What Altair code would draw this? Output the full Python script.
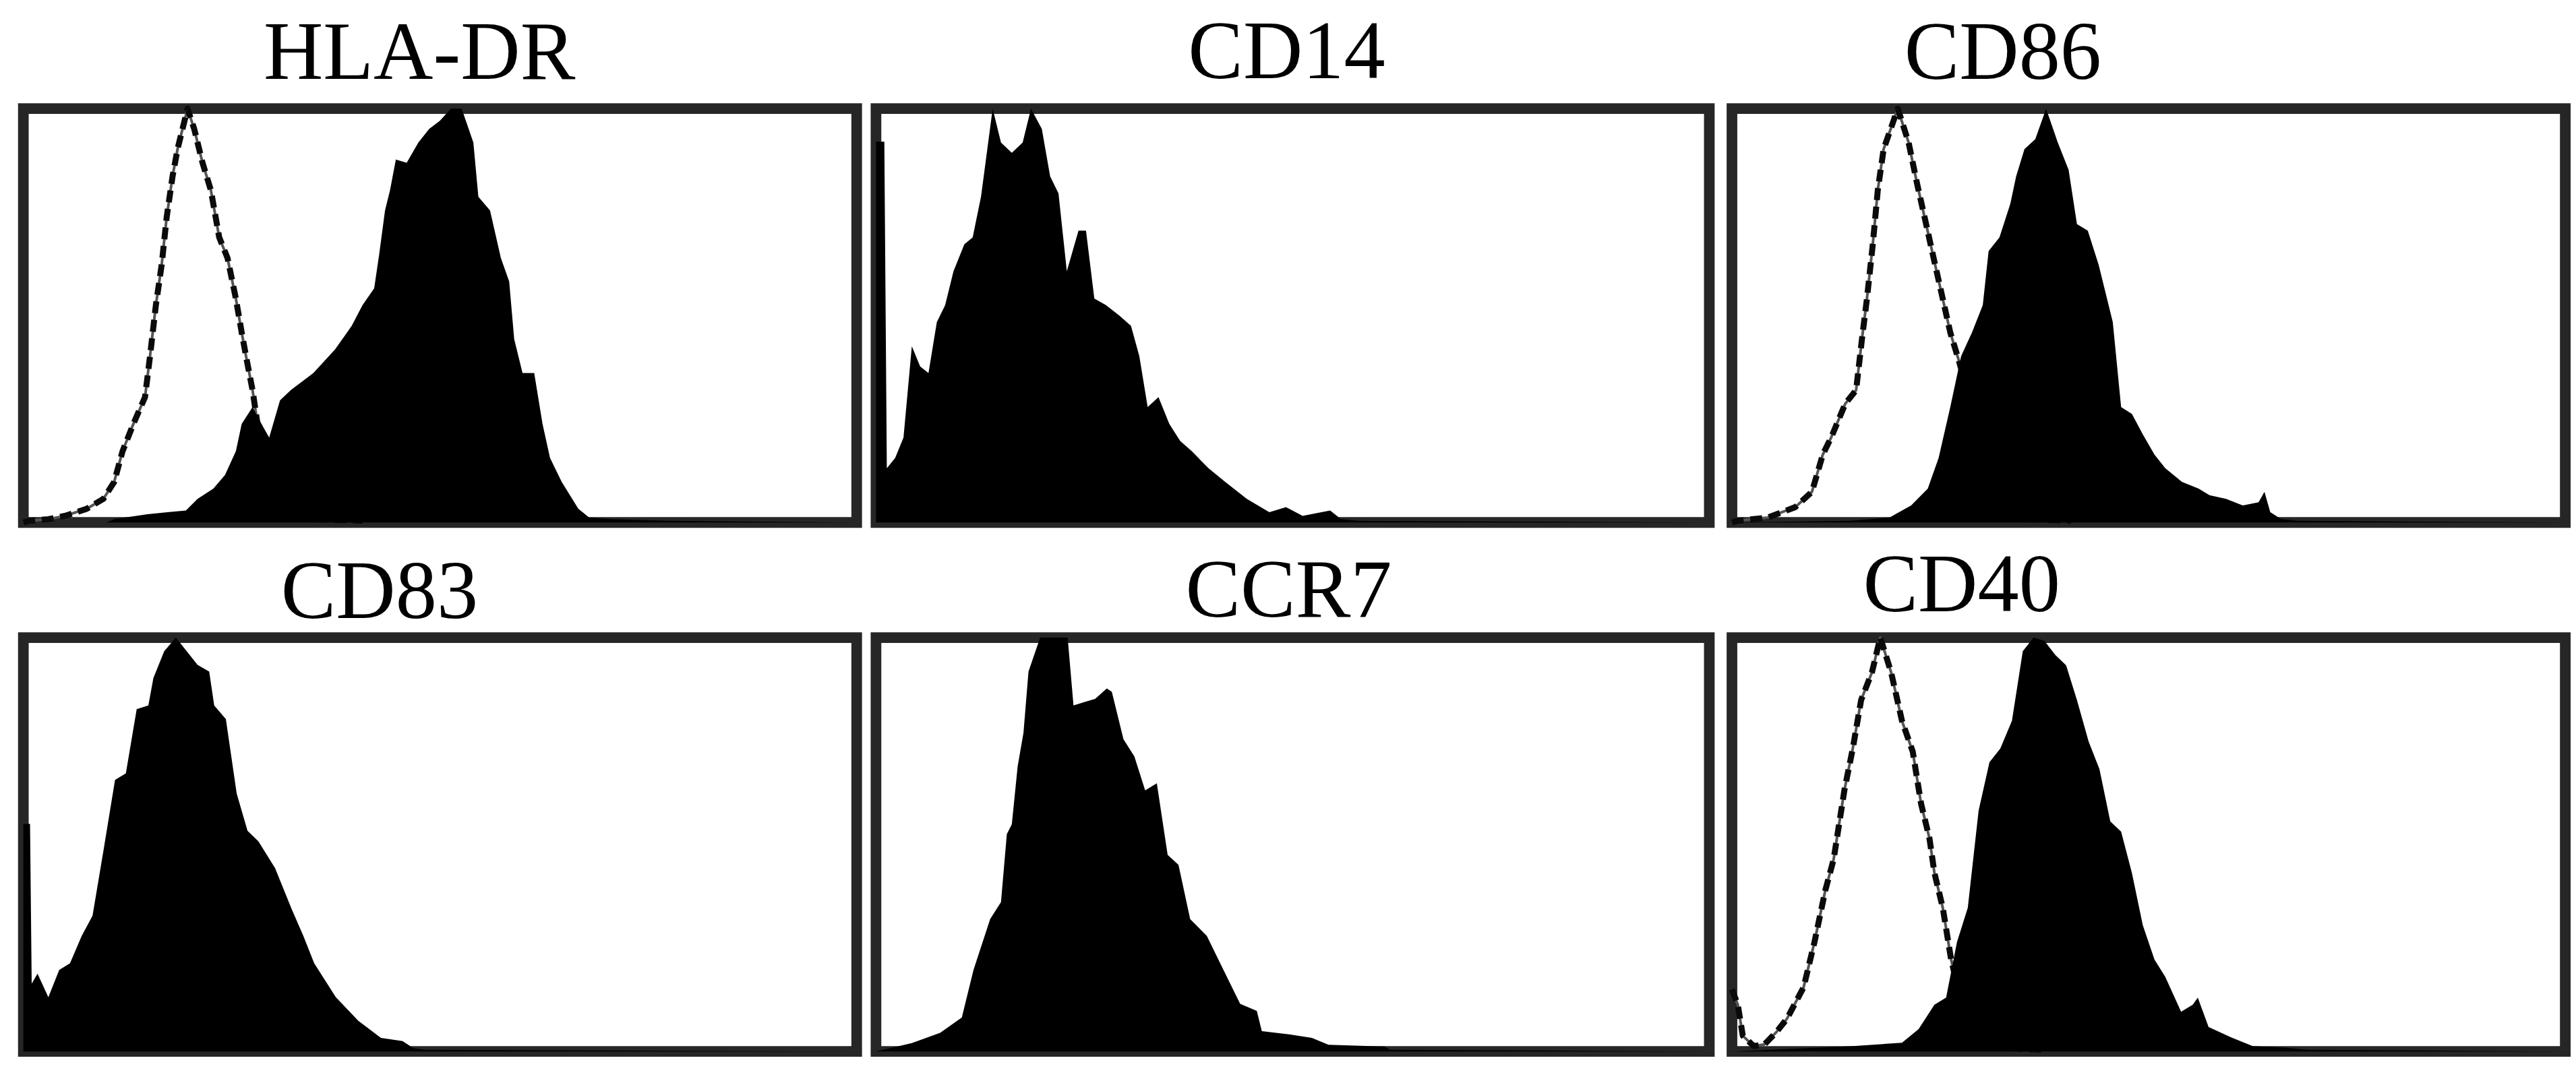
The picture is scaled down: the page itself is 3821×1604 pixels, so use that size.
import altair as alt
import pandas as pd

# ---- data: fluorescence channel (0-1000) vs relative count (% of max) ----
panels = ["HLA-DR", "CD14", "CD86", "CD83", "CCR7", "CD40"]

hla_fill_x = [0, 100, 109, 149, 195, 209, 228, 242, 255, 262, 275, 288, 295, 308, 321, 348, 374, 394, 407, 421, 427, 434, 440, 447, 460, 474, 487, 500, 513, 526, 540, 546, 560, 573, 583, 589, 599, 613, 623, 632, 646, 666, 679, 705, 772, 1000]
hla_fill_y = [0, 0, 0.8, 2.0, 2.9, 5.7, 8.2, 11.5, 17.2, 23.8, 27.9, 23.0, 20.5, 29.5, 32.0, 36.1, 41.8, 47.5, 52.5, 56.6, 64.8, 75.4, 80.3, 87.7, 86.9, 91.8, 95.1, 97.1, 100, 100, 91.8, 78.7, 75.4, 63.9, 58.2, 44.3, 36.1, 36.1, 23.8, 15.6, 9.8, 3.3, 1.2, 0.8, 0.4, 0]
hla_iso_x = [0, 7, 30, 50, 76, 96, 109, 119, 132, 146, 152, 159, 166, 172, 179, 185, 197, 205, 215, 225, 235, 245, 255, 262, 268, 275, 281, 291, 305, 321, 348, 407]
hla_iso_y = [0, 0.4, 0.8, 1.6, 3.3, 5.7, 9.8, 17.2, 23.8, 30.3, 40.2, 52.5, 62.3, 73.8, 83.6, 90.2, 100, 95.1, 86.9, 80.3, 68.9, 63.9, 54.1, 45.9, 39.3, 32.0, 23.8, 15.6, 7.4, 2.5, 0.8, 0.4]

cd14_fill_x = [0, 10, 13, 23, 33, 43, 53, 63, 73, 83, 93, 106, 116, 126, 133, 140, 150, 163, 176, 186, 199, 209, 219, 229, 243, 252, 262, 276, 292, 306, 316, 326, 339, 352, 365, 379, 399, 419, 445, 472, 492, 512, 545, 558, 578, 1000]
cd14_fill_y = [92, 92, 13.1, 15.6, 20.5, 42.6, 37.7, 36.1, 48.4, 52.5, 60.7, 67.2, 68.9, 78.7, 89.3, 100, 91.8, 89.3, 91.8, 100, 95.1, 83.6, 79.5, 60.7, 70.5, 70.5, 54.1, 52.5, 50.0, 47.5, 40.2, 27.9, 30.3, 23.8, 19.7, 17.2, 13.1, 9.8, 5.7, 2.5, 3.7, 1.6, 2.9, 0.8, 0.4, 0]

cd86_fill_x = [0, 142, 189, 215, 235, 248, 262, 275, 288, 301, 308, 321, 334, 341, 351, 364, 377, 391, 404, 414, 427, 440, 447, 457, 467, 480, 493, 507, 520, 540, 560, 573, 593, 613, 632, 639, 646, 659, 679, 1000]
cd86_fill_y = [0, 0.4, 1.2, 4.1, 8.2, 15.6, 27.9, 40.2, 45.9, 52.5, 65.6, 68.9, 77.0, 83.6, 90.2, 92.6, 100, 91.8, 85.2, 72.1, 70.5, 62.3, 56.6, 48.4, 27.9, 26.2, 21.3, 16.4, 13.1, 9.8, 8.2, 6.6, 5.7, 4.1, 4.9, 7.4, 2.5, 0.8, 0.4, 0]
cd86_iso_x = [0, 7, 43, 76, 96, 109, 119, 136, 149, 156, 162, 169, 175, 182, 199, 212, 222, 232, 242, 252, 262, 272, 281, 288, 298, 308, 328, 354, 407]
cd86_iso_y = [0, 0.4, 1.2, 3.7, 7.4, 16.4, 20.5, 28.7, 32.0, 44.3, 54.1, 67.2, 80.3, 90.2, 100, 91.8, 82.0, 73.0, 63.9, 54.9, 45.9, 39.3, 32.8, 23.8, 15.6, 7.4, 2.5, 0.8, 0.4]

cd83_fill_x = [0, 8, 10, 17, 30, 43, 56, 70, 83, 96, 110, 123, 136, 150, 156, 169, 183, 196, 209, 223, 229, 243, 256, 269, 282, 302, 322, 336, 349, 362, 375, 402, 429, 455, 468, 482, 1000]
cd83_fill_y = [55, 55, 16.4, 18.8, 13.1, 19.7, 21.3, 27.9, 32.8, 48.4, 65.6, 67.2, 82.7, 83.6, 90.2, 96.7, 100, 96.7, 93.4, 91.8, 83.6, 80.3, 62.3, 53.3, 50.8, 44.3, 34.4, 27.9, 21.3, 17.2, 13.1, 7.4, 3.3, 2.5, 0.8, 0.4, 0]

ccr7_fill_x = [0, 17, 43, 77, 103, 117, 137, 150, 157, 163, 170, 177, 183, 197, 230, 237, 250, 263, 277, 283, 297, 310, 323, 337, 350, 363, 377, 397, 417, 437, 457, 463, 497, 523, 543, 610, 617, 1000]
ccr7_fill_y = [0, 0.8, 2.0, 4.5, 8.2, 19.7, 32.0, 36.1, 52.5, 54.9, 68.9, 77.0, 91.8, 100, 100, 83.6, 84.4, 85.2, 87.7, 86.9, 75.4, 71.3, 63.1, 64.8, 47.5, 45.1, 32.0, 27.9, 19.7, 11.5, 9.8, 4.9, 4.1, 3.3, 1.6, 1.2, 0.4, 0]

cd40_fill_x = [0, 145, 204, 224, 243, 257, 270, 283, 296, 309, 322, 336, 349, 362, 375, 388, 401, 414, 428, 441, 454, 467, 480, 493, 507, 520, 539, 553, 559, 572, 599, 625, 664, 691, 1000]
cd40_fill_y = [0, 1.3, 2.1, 5.4, 11.3, 13.0, 26.4, 34.7, 58.2, 69.9, 73.2, 79.9, 96.7, 100, 99.2, 95.8, 93.3, 84.9, 74.9, 68.2, 55.6, 53.1, 43.1, 30.5, 22.2, 18.0, 9.6, 11.3, 13.0, 5.9, 3.4, 1.3, 0.9, 0.4, 0]
cd40_iso_x = [0, 7, 13, 26, 39, 53, 66, 86, 99, 112, 122, 135, 145, 155, 168, 178, 191, 204, 217, 227, 237, 243, 253, 263, 273, 286, 303, 329, 375]
cd40_iso_y = [15, 11.3, 3.8, 1.3, 1.7, 4.6, 7.9, 15.5, 26.4, 38.9, 46.4, 63.2, 73.2, 84.9, 91.6, 100, 91.6, 79.9, 72.4, 59.8, 51.5, 43.1, 34.7, 22.2, 13.8, 6.3, 2.1, 0.8, 0.4]

series = [
    ("HLA-DR", "stained", hla_fill_x, hla_fill_y),
    ("HLA-DR", "isotype", hla_iso_x, hla_iso_y),
    ("CD14", "stained", cd14_fill_x, cd14_fill_y),
    ("CD86", "stained", cd86_fill_x, cd86_fill_y),
    ("CD86", "isotype", cd86_iso_x, cd86_iso_y),
    ("CD83", "stained", cd83_fill_x, cd83_fill_y),
    ("CCR7", "stained", ccr7_fill_x, ccr7_fill_y),
    ("CD40", "stained", cd40_fill_x, cd40_fill_y),
    ("CD40", "isotype", cd40_iso_x, cd40_iso_y),
]

rows = []
for p, s, xs, ys in series:
    for xv, yv in zip(xs, ys):
        rows.append({"panel": p, "series": s, "x": xv, "y": yv})
df = pd.DataFrame(rows)

W, H = 1252, 622
FONT = "Liberation Serif"
FS = 124

# title horizontal shift and vertical offset per panel
title_dx = {"HLA-DR": -31, "CD14": -9, "CD86": -219, "CD83": -91, "CCR7": -6, "CD40": -281}
title_off = {"HLA-DR": -84, "CD14": -78, "CD86": -84, "CD83": -95, "CCR7": -93, "CD40": -89}


def panel(name):
    base = alt.Chart(df).transform_filter(alt.datum.panel == name)
    xenc = alt.X("x:Q", scale=alt.Scale(domain=[0, 1000], nice=False, zero=False), axis=None)
    yenc = alt.Y("y:Q", scale=alt.Scale(domain=[0, 100], nice=False), axis=None)
    fill = base.transform_filter(alt.datum.series == "stained").mark_area(
        color="black", interpolate="linear", opacity=1
    ).encode(x=xenc, y=yenc)
    layers = []
    if name in ("HLA-DR", "CD86", "CD40"):
        iso = base.transform_filter(alt.datum.series == "isotype")
        iso_base = iso.mark_line(color="#555555", strokeWidth=4, strokeJoin="round").encode(x=xenc, y=yenc)
        iso_dash = iso.mark_line(
            color="#0a0a0a", strokeWidth=9, strokeDash=[18, 10], strokeJoin="round"
        ).encode(x=xenc, y=yenc)
        layers += [iso_base, iso_dash]
    layers.append(fill)
    return alt.layer(*layers).properties(
        width=W,
        height=H,
        title=alt.TitleParams(
            text=name,
            font=FONT,
            fontSize=FS,
            fontWeight="normal",
            color="black",
            anchor="middle",
            baseline="alphabetic",
            dx=title_dx[name],
            offset=title_off[name],
        ),
    )


top = alt.hconcat(panel("HLA-DR"), panel("CD14"), panel("CD86"), spacing=13)
bottom = alt.hconcat(panel("CD83"), panel("CCR7"), panel("CD40"), spacing=13)

chart = (
    alt.vconcat(top, bottom, spacing=13)
    .properties(padding={"left": 14, "top": -8, "right": 0, "bottom": 0})
    .configure(background="white")
    .configure_view(stroke="#262626", strokeWidth=16)
)

chart.save("out.html", embed_options={"renderer": "svg", "actions": False})
